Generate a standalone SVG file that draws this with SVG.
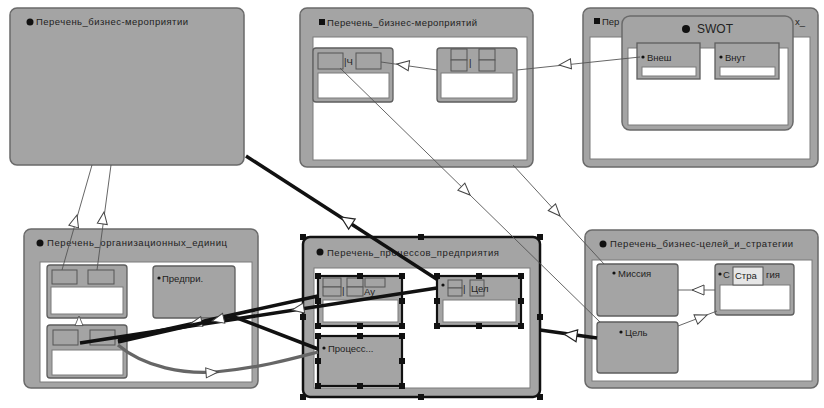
<svg xmlns="http://www.w3.org/2000/svg" xmlns:xlink="http://www.w3.org/1999/xlink" width="824" height="408" viewBox="0 0 824 408">
<defs>
<style>
.ct{fill:#a4a4a4;stroke:#6a6a6a;stroke-width:1.5}
.in{fill:#fff;stroke:#7a7a7a;stroke-width:1}
.nd{fill:#a4a4a4;stroke:#5e5e5e;stroke-width:1.3}
.sb{fill:#a4a4a4;stroke:#555;stroke-width:1}
.sel{fill:#a4a4a4;stroke:#111;stroke-width:2.2}
.t{font-family:"Liberation Sans",Arial,sans-serif;font-size:9.5px;fill:#222}
.tt{font-family:"Liberation Sans",Arial,sans-serif;font-size:12px;fill:#222}
.h{fill:#111}
.thin{fill:none;stroke:#555;stroke-width:0.9}
.thick{fill:none;stroke:#111;stroke-width:3.5}
.gray{fill:none;stroke:#666;stroke-width:3.2}
</style>
<path id="tri" d="M0,0 L-12,-5 L-12,5 Z" fill="#fff" stroke="#444" stroke-width="1"/>
<path id="trib" d="M0,0 L-13,-6 L-13,6 Z" fill="#fff" stroke="#222" stroke-width="1.2"/>
<rect id="hd" x="-3" y="-3" width="6" height="6" class="h"/>
</defs>
<rect width="824" height="408" fill="#fff"/>

<g id="c1">
<rect class="ct" x="10" y="8" width="234" height="157" rx="7"/>
<circle cx="30" cy="22" r="3.5" fill="#111"/>
<text class="t" x="36" y="25" textLength="152">Перечень_бизнес-мероприятии</text>
</g>

<g id="c2">
<rect class="ct" x="300" y="8" width="233" height="159" rx="7"/>
<rect class="in" x="313" y="37" width="214" height="123"/>
<rect x="319" y="19" width="6" height="6" fill="#111"/>
<text class="t" x="327" y="26" textLength="150">Перечень_бизнес-мероприятий</text>
</g>
<g id="c2a">
<rect class="nd" x="313" y="48" width="80" height="54" rx="3"/>
<rect class="in" x="318" y="73" width="71" height="25"/>
<rect class="sb" x="318" y="53" width="25" height="16"/>
<rect class="sb" x="356" y="53" width="25" height="16"/>
<text class="t" x="344" y="65">|Ч</text>
</g>
<g id="c2b">
<rect class="nd" x="437" y="48" width="80" height="54" rx="3"/>
<rect class="in" x="441" y="73" width="72" height="25"/>
<rect class="sb" x="451" y="49" width="16" height="11"/>
<rect class="sb" x="451" y="60" width="16" height="11"/>
<rect class="sb" x="479" y="49" width="16" height="11"/>
<rect class="sb" x="479" y="60" width="16" height="11"/>
<text class="t" x="469" y="66">|</text>
</g>

<g id="c3">
<rect class="ct" x="583" y="8" width="235" height="159" rx="7"/>
<rect class="in" x="590" y="37" width="220" height="122"/>
<rect x="594" y="18" width="6" height="6" fill="#111"/>
<text class="t" x="602" y="25">Пер</text>
<text class="t" x="795" y="25">х_</text>
</g>
<g id="swot">
<rect class="ct" x="622" y="16" width="171" height="114" rx="8" stroke="#555"/>
<rect class="in" x="628" y="48" width="160" height="77"/>
<circle cx="686" cy="29" r="4" fill="#111"/>
<text class="tt" x="697" y="33">SWOT</text>
</g>
<g id="vnesh">
<rect class="nd" x="637" y="43" width="63" height="36"/>
<rect class="in" x="642" y="67" width="54" height="9"/>
<circle cx="643" cy="57" r="1.6" fill="#111"/>
<text class="t" x="647" y="61">Внеш</text>
</g>
<g id="vnut">
<rect class="nd" x="715" y="43" width="64" height="36"/>
<rect class="in" x="720" y="67" width="55" height="9"/>
<circle cx="721" cy="57" r="1.6" fill="#111"/>
<text class="t" x="725" y="61">Внут</text>
</g>

<g id="c4">
<rect class="ct" x="24" y="229" width="234" height="159" rx="7"/>
<rect class="in" x="40" y="262" width="212" height="120"/>
<circle cx="40" cy="243" r="3.5" fill="#111"/>
<text class="t" x="47" y="246" textLength="180">Перечень_организационных_единиц</text>
</g>
<g id="c4a">
<rect class="nd" x="47" y="265" width="80" height="53" rx="3"/>
<rect class="sb" x="52" y="270" width="25" height="14"/>
<rect class="sb" x="88" y="270" width="26" height="14"/>
<rect class="in" x="51" y="287" width="72" height="27"/>
</g>
<g id="c4b">
<rect class="nd" x="47" y="325" width="80" height="53" rx="3"/>
<rect class="sb" x="53" y="330" width="25" height="15"/>
<rect class="sb" x="90" y="330" width="25" height="15"/>
<rect class="in" x="52" y="350" width="71" height="25"/>
</g>
<g id="c4c">
<rect class="nd" x="153" y="266" width="82" height="52" rx="3"/>
<circle cx="159" cy="278" r="1.6" fill="#111"/>
<text class="t" x="162" y="282">Предпри.</text>
</g>

<g id="c6">
<rect class="ct" x="585" y="230" width="233" height="158" rx="7"/>
<rect class="in" x="592" y="260" width="220" height="121"/>
<circle cx="603" cy="244" r="3.5" fill="#111"/>
<text class="t" x="610" y="247" textLength="183">Перечень_бизнес-целей_и_стратегии</text>
</g>
<g id="missiya">
<rect class="nd" x="597" y="264" width="81" height="52" rx="3"/>
<circle cx="614" cy="273" r="1.6" fill="#111"/>
<text class="t" x="618" y="277">Миссия</text>
</g>
<g id="cel">
<rect class="nd" x="597" y="322" width="81" height="51" rx="3"/>
<circle cx="621" cy="332" r="1.6" fill="#111"/>
<text class="t" x="625" y="336">Цель</text>
</g>
<g id="strat">
<rect class="nd" x="715" y="264" width="79" height="51" rx="3"/>
<rect class="in" x="720" y="285" width="70" height="25"/>
<circle cx="720" cy="274" r="1.6" fill="#111"/>
<text class="t" x="723" y="278">С</text>
<rect x="733" y="267" width="30" height="18" fill="#e6e6e6" stroke="#555" stroke-width="1"/>
<text class="t" x="735" y="279">Стра</text>
<text class="t" x="766" y="278">гия</text>
</g>

<g id="c5">
<rect x="303" y="237" width="237" height="160" rx="7" fill="#a4a4a4" stroke="#111" stroke-width="2.5"/>
<rect class="in" x="314" y="268" width="216" height="120"/>
<circle cx="320" cy="252" r="3.5" fill="#111"/>
<text class="t" x="327" y="256" textLength="172">Перечень_процессов_предприятия</text>
<use xlink:href="#hd" x="303" y="237"/><use xlink:href="#hd" x="421" y="237"/><use xlink:href="#hd" x="540" y="237"/>
<use xlink:href="#hd" x="303" y="317"/><use xlink:href="#hd" x="540" y="317"/>
<use xlink:href="#hd" x="303" y="397"/><use xlink:href="#hd" x="421" y="397"/><use xlink:href="#hd" x="540" y="397"/>
</g>
<g id="p1">
<rect class="sel" x="318" y="276" width="84" height="50"/>
<rect class="in" x="323" y="300" width="75" height="22"/>
<rect class="sb" x="323" y="278" width="18" height="9"/><rect class="sb" x="323" y="287" width="18" height="9"/>
<rect class="sb" x="347" y="278" width="16" height="9"/><rect class="sb" x="347" y="287" width="16" height="9"/>
<rect class="sb" x="365" y="278" width="20" height="9"/>
<text class="t" x="342" y="294" font-size="8">|</text>
<text class="t" x="364" y="295" font-size="8">Ау</text>
<use xlink:href="#hd" x="318" y="276"/><use xlink:href="#hd" x="360" y="276"/><use xlink:href="#hd" x="402" y="276"/>
<use xlink:href="#hd" x="318" y="301"/><use xlink:href="#hd" x="402" y="301"/>
<use xlink:href="#hd" x="318" y="326"/><use xlink:href="#hd" x="360" y="326"/><use xlink:href="#hd" x="402" y="326"/>
</g>
<g id="p2">
<rect class="sel" x="437" y="276" width="84" height="50"/>
<rect class="in" x="443" y="300" width="73" height="22"/>
<circle cx="443" cy="285" r="1.6" fill="#111"/>
<rect class="sb" x="448" y="280" width="14" height="8"/><rect class="sb" x="448" y="288" width="14" height="8"/>
<rect class="sb" x="470" y="280" width="14" height="16"/>
<text class="t" x="463" y="292">|</text>
<text class="t" x="471" y="292" font-size="8.5">Цел</text>
<use xlink:href="#hd" x="437" y="276"/><use xlink:href="#hd" x="479" y="276"/><use xlink:href="#hd" x="521" y="276"/>
<use xlink:href="#hd" x="437" y="301"/><use xlink:href="#hd" x="521" y="301"/>
<use xlink:href="#hd" x="437" y="326"/><use xlink:href="#hd" x="479" y="326"/><use xlink:href="#hd" x="521" y="326"/>
</g>
<g id="p3">
<rect class="sel" x="318" y="336" width="84" height="50"/>
<circle cx="324" cy="348" r="1.6" fill="#111"/>
<text class="t" x="328" y="352">Процесс...</text>
<use xlink:href="#hd" x="318" y="336"/><use xlink:href="#hd" x="360" y="336"/><use xlink:href="#hd" x="402" y="336"/>
<use xlink:href="#hd" x="318" y="361"/><use xlink:href="#hd" x="402" y="361"/>
<use xlink:href="#hd" x="318" y="386"/><use xlink:href="#hd" x="360" y="386"/><use xlink:href="#hd" x="402" y="386"/>
</g>

<g id="connectors">
<polyline class="thin" points="92,165 62,270"/>
<use xlink:href="#tri" transform="translate(77,215) rotate(-74)"/>
<polyline class="thin" points="111,165 97,270"/>
<use xlink:href="#tri" transform="translate(104,212) rotate(-82)"/>
<use xlink:href="#tri" transform="translate(79,316) rotate(-90) scale(0.8)"/>
<polyline class="thin" points="381,62 437,70"/>
<use xlink:href="#tri" transform="translate(397,64) rotate(188)"/>
<polyline class="thin" points="517,70 640,57"/>
<use xlink:href="#tri" transform="translate(559,65) rotate(174)"/>
<polyline class="thin" points="340,68 600,322"/>
<use xlink:href="#tri" transform="translate(470,195) rotate(44)"/>
<polyline class="thin" points="513,165 604,264"/>
<use xlink:href="#tri" transform="translate(560,216) rotate(47.5)"/>
<polyline class="thin" points="678,290 715,290"/>
<use xlink:href="#tri" transform="translate(692,290) rotate(180)"/>
<polyline class="thin" points="678,326 717,311"/>
<use xlink:href="#tri" transform="translate(707,315) rotate(-22)"/>
<polyline class="thick" points="246,156 438,280"/>
<use xlink:href="#trib" transform="translate(341,217) rotate(213)"/>
<polyline class="thick" points="540,330 597,338"/>
<use xlink:href="#trib" transform="translate(564,334) rotate(188)"/>
<path class="gray" d="M118,345 C145,368 185,374 215,372 C260,368 295,358 318,352"/>
<use xlink:href="#tri" transform="translate(218,372) rotate(-4)"/>
<polyline class="thick" points="80,343 437,288"/>
<use xlink:href="#tri" transform="translate(292,310) rotate(171)"/>
<polyline class="thick" points="118,340 318,296"/>
<use xlink:href="#tri" transform="translate(190,324) rotate(168)"/>
<polyline class="thick" points="118,342 232,316 318,349"/>
<use xlink:href="#tri" transform="translate(212,321) rotate(167)"/>
</g>
</svg>
